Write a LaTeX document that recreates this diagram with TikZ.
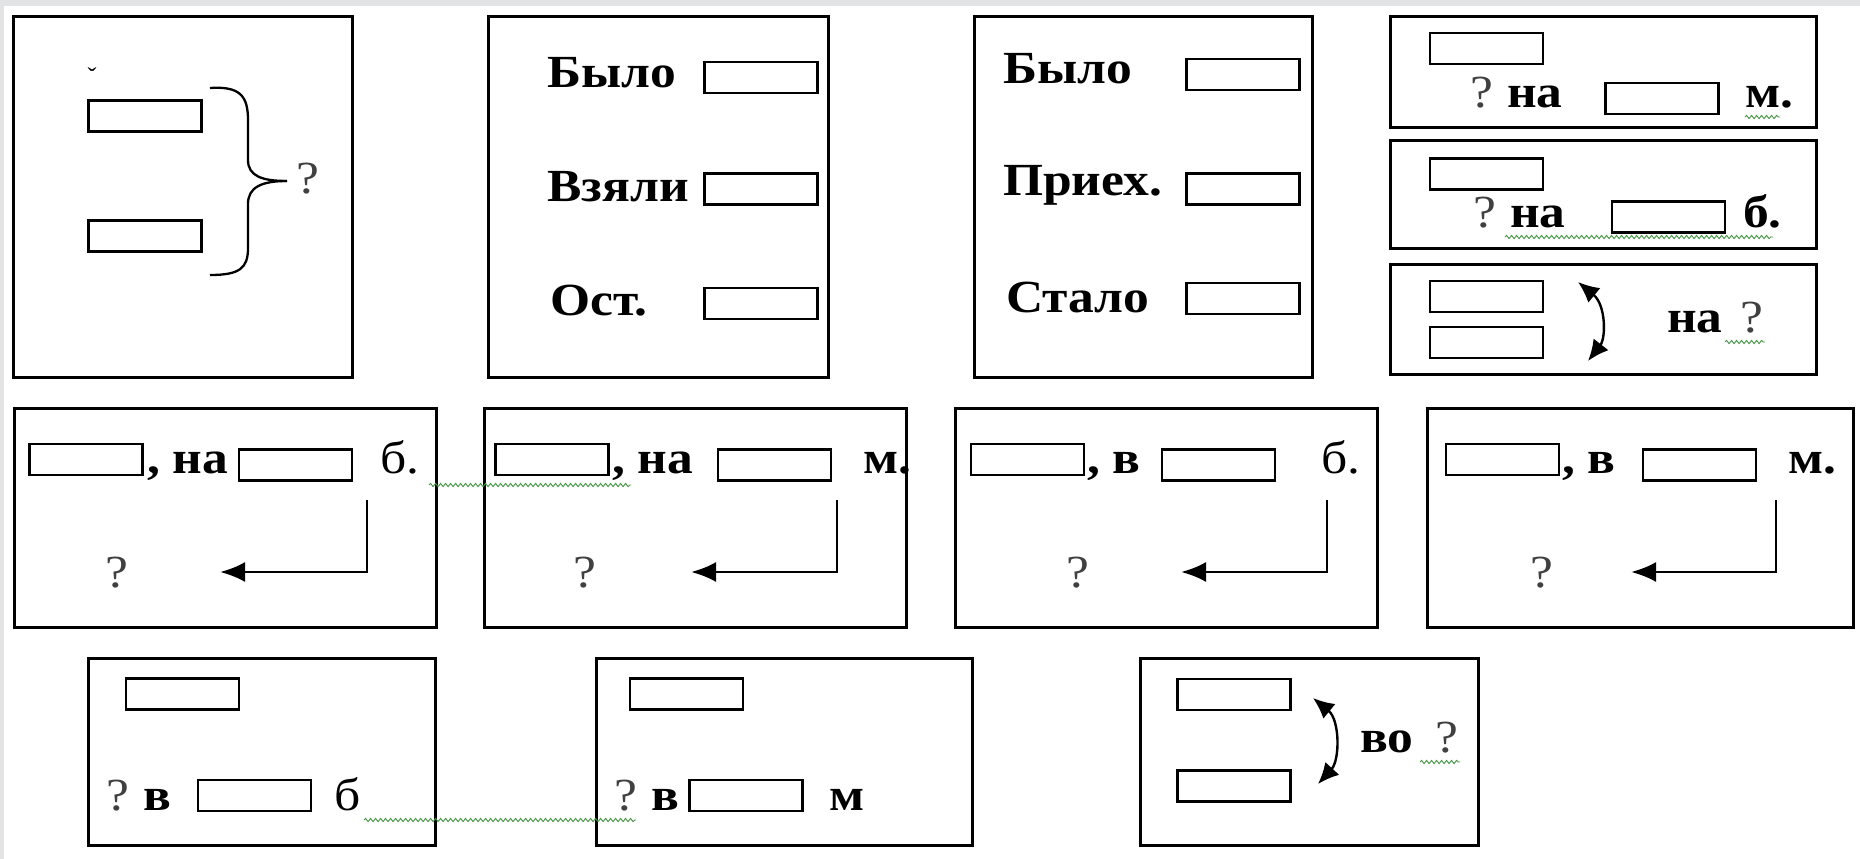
\documentclass[tikz,border=0pt]{standalone}
\usepackage{fontspec}
\setmainfont[FakeStretch=1.12]{Liberation Serif}
\usetikzlibrary{arrows.meta,decorations.pathmorphing}
\definecolor{bggray}{RGB}{225,227,229}
\definecolor{wavgreen}{RGB}{70,150,70}
\begin{document}
\begin{tikzpicture}[x=1pt,y=-1pt,
  frame/.style 2 args={draw, line width=3pt, inner sep=0pt, minimum width=#1 pt, minimum height=#2 pt},
  slot/.style={draw, line width=2.6pt, inner sep=0pt, minimum width=113pt, minimum height=31pt},
  txt/.style={anchor=base west, inner sep=0pt, font=\fontsize{46}{50}\selectfont},
  btxt/.style={anchor=base west, inner sep=0pt, font=\fontsize{46}{50}\selectfont\bfseries},
  qm/.style={txt, text=black!75},
  wav/.style={draw=wavgreen, line width=0.9pt, decorate, decoration={snake, amplitude=1.6pt, segment length=5pt}},
  elbow/.style={line width=2.8pt, -{Latex[length=25pt,width=20pt]}},
  swaparrow/.style={line width=2.4pt, {Latex[length=21pt,width=19pt]}-{Latex[length=21pt,width=19pt]}}
]
\useasboundingbox (0,0) rectangle (1860,859);
\fill[bggray] (0,0) rectangle (1860,859);
\fill[white] (4,6) rectangle (1860,859);

% ---------- frames ----------
\node[frame={339}{360}] (f1) at (182.5,197) {};
\node[frame={340}{360}] (f2) at (658,197) {};
\node[frame={338}{360}] (f3) at (1143,197) {};
\node[frame={426}{110}] (f4a) at (1603,72) {};
\node[frame={426}{108}] (f4b) at (1603,194) {};
\node[frame={426}{110}] (f4c) at (1603,319) {};
\node[frame={422}{219}] (f5) at (225,517.5) {};
\node[frame={422}{219}] (f6) at (695,517.5) {};
\node[frame={422}{219}] (f7) at (1166,517.5) {};
\node[frame={426}{219}] (f8) at (1640,517.5) {};
\node[frame={347}{187}] (f9) at (261.5,751.5) {};
\node[frame={376}{187}] (f10) at (784,751.5) {};
\node[frame={338}{187}] (f11) at (1309,751.5) {};

% ---------- box 1 ----------
\node[inner sep=0pt, font=\fontsize{24}{24}\selectfont] (mark) at (92,76) {ˇ};
\node[slot] (s1a) at (145,116) {};
\node[slot] (s1b) at (145,236) {};
\draw[line width=2.3pt] (210,88) .. controls (240,86) and (248,96) .. (248,120) -- (248,160)
  .. controls (248,176) and (262,181) .. (287,181);
\draw[line width=2.3pt] (287,181) .. controls (262,181) and (248,187) .. (248,204) -- (248,248)
  .. controls (248,268) and (240,275) .. (210,275);
\node[qm] (q1) at (296,193) {?};

% ---------- box 2 ----------
\node[btxt] (t2a) at (547,87) {Было};
\node[btxt] (t2b) at (547,201) {Взяли};
\node[btxt] (t2c) at (550,315) {Ост.};
\node[slot] (s2a) at (761,77.5) {};
\node[slot] (s2b) at (761,189) {};
\node[slot] (s2c) at (761,303.5) {};

% ---------- box 3 ----------
\node[btxt] (t3a) at (1003,83) {Было};
\node[btxt] (t3b) at (1003,195) {Приех.};
\node[btxt] (t3c) at (1006,312) {Стало};
\node[slot] (s3a) at (1243,74.5) {};
\node[slot] (s3b) at (1243,189) {};
\node[slot] (s3c) at (1243,298.5) {};

% ---------- box 4a ----------
\node[slot] (s4a1) at (1486.5,48.5) {};
\node[slot] (s4a2) at (1662,98.5) {};
\node[qm] (q4a) at (1470,107) {?};
\node[btxt] (t4a) at (1507,107) {на};
\node[btxt] (u4a) at (1745,107) {м.};
\draw[wav] (1745,117) -- (1780,117);

% ---------- box 4b ----------
\node[slot] (s4b1) at (1486.5,174) {};
\node[slot] (s4b2) at (1668.5,217) {};
\node[qm] (q4b) at (1473,227) {?};
\node[btxt] (t4b) at (1510,227) {на};
\node[btxt] (u4b) at (1743,227) {б.};
\draw[wav] (1505,237) -- (1773,237);

% ---------- box 4c ----------
\node[slot] (s4c1) at (1486.5,296.5) {};
\node[slot] (s4c2) at (1486.5,342.5) {};
\coordinate (c4top) at (1578,282);
\coordinate (c4bot) at (1588,361);
\draw[swaparrow] (c4top) .. controls (1606,305) and (1606,338) .. (c4bot);
\node[btxt] (t4c) at (1667,332) {на};
\node[qm] (q4c) at (1740,332) {?};
\draw[wav] (1725,342) -- (1765,342);

% ---------- row 2 ----------
\node[slot] (s5a) at (86,459.5) {};
\node[btxt] (t5) at (147,473) {, на};
\node[slot] (s5b) at (295.5,465) {};
\node[txt] (u5) at (380,473) {б.};
\coordinate (e5s) at (367,500); \coordinate (e5t) at (220,572);
\draw[elbow] (e5s) |- (e5t);
\node[qm] (q5) at (105,587) {?};

\node[slot] (s6a) at (552,459.5) {};
\node[btxt] (t6) at (612,473) {, на};
\node[slot] (s6b) at (774.5,465) {};
\node[btxt] (u6) at (863,473) {м.};
\coordinate (e6s) at (837,500); \coordinate (e6t) at (691,572);
\draw[elbow] (e6s) |- (e6t);
\node[qm] (q6) at (573,587) {?};
\draw[wav] (429,485) -- (631,485);

\node[slot] (s7a) at (1027.5,459.5) {};
\node[btxt] (t7) at (1087,473) {, в};
\node[slot] (s7b) at (1218.5,465) {};
\node[txt] (u7) at (1321,473) {б.};
\coordinate (e7s) at (1327,500); \coordinate (e7t) at (1181,572);
\draw[elbow] (e7s) |- (e7t);
\node[qm] (q7) at (1066,587) {?};

\node[slot] (s8a) at (1502.5,459.5) {};
\node[btxt] (t8) at (1562,473) {, в};
\node[slot] (s8b) at (1699.5,465) {};
\node[btxt] (u8) at (1788,473) {м.};
\coordinate (e8s) at (1776,500); \coordinate (e8t) at (1631,572);
\draw[elbow] (e8s) |- (e8t);
\node[qm] (q8) at (1530,587) {?};

% ---------- row 3 ----------
\node[slot] (s9a) at (182.5,694) {};
\node[slot] (s9b) at (254.5,795.5) {};
\node[qm] (q9) at (106,810) {?};
\node[btxt] (t9) at (143,810) {в};
\node[txt] (u9) at (334,810) {б};

\node[slot] (s10a) at (686.5,694) {};
\node[slot] (s10b) at (746,795.5) {};
\node[qm] (q10) at (614,810) {?};
\node[btxt] (t10) at (651,810) {в};
\node[btxt] (u10) at (829,810) {м};
\draw[wav] (364,820) -- (636,820);

\node[slot] (s11a) at (1234,694.5) {};
\node[slot] (s11b) at (1234,786) {};
\coordinate (c11top) at (1313,698);
\coordinate (c11bot) at (1318,784);
\draw[swaparrow] (c11top) .. controls (1340,720) and (1340,760) .. (c11bot);
\node[btxt] (t11) at (1360,752) {во};
\node[qm] (q11) at (1435,752) {?};
\draw[wav] (1420,762) -- (1460,762);
\end{tikzpicture}
\end{document}
